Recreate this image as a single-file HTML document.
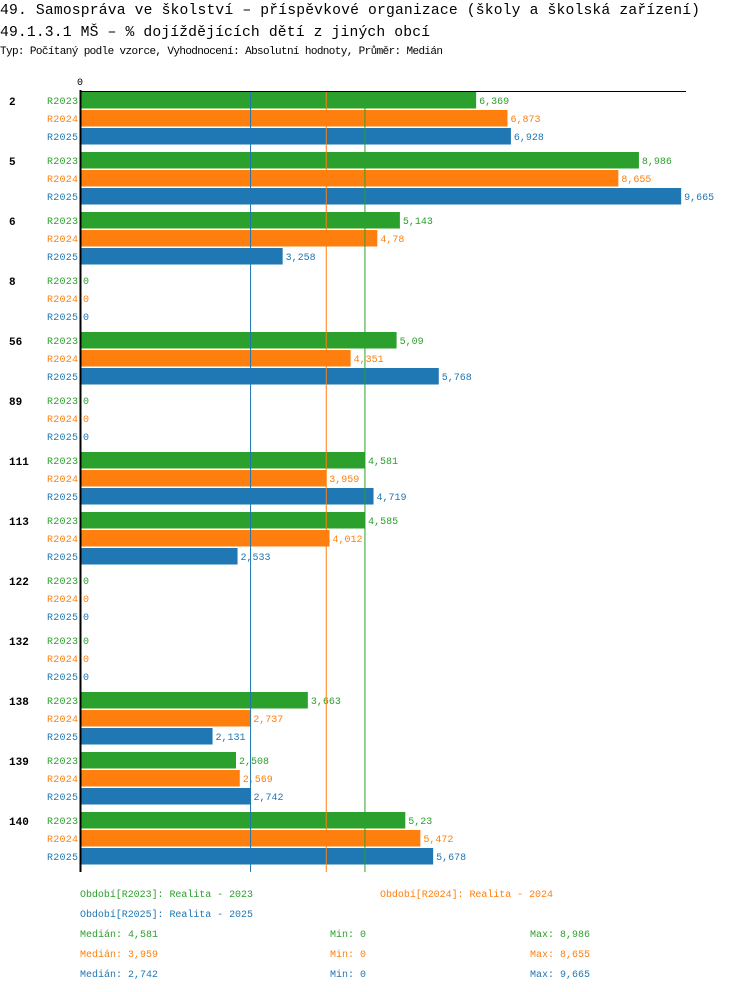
<!DOCTYPE html>
<html><head><meta charset="utf-8"><style>
body{margin:0;background:#fff;}
svg{display:block;font-family:"Liberation Mono","DejaVu Sans Mono",monospace;}
</style></head><body>
<svg id="c" width="750" height="992" xmlns="http://www.w3.org/2000/svg">
<text x="0" y="14" font-size="14.7" textLength="700">49. Samospráva ve školství – příspěvkové organizace (školy a školská zařízení)</text>
<text x="0" y="36" font-size="14.7" textLength="430">49.1.3.1 MŠ – % dojíždějících dětí z jiných obcí</text>
<text x="0" y="54" font-size="11" textLength="443">Typ: Počítaný podle vzorce, Vyhodnocení: Absolutní hodnoty, Průměr: Medián</text>
</svg>
<script>
const categories=["2","5","6","8","56","89","111","113","122","132","138","139","140"];
const seriesNames=["R2023","R2024","R2025"];
const r2023=[6.369,8.986,5.143,0,5.09,0,4.581,4.585,0,0,3.663,2.508,5.23];
const r2024=[6.873,8.655,4.78,0,4.351,0,3.959,4.012,0,0,2.737,2.569,5.472];
const r2025=[6.928,9.665,3.258,0,5.768,0,4.719,2.533,0,0,2.131,2.742,5.678];
const medians=[4.581,3.959,2.742];
const mins=[0,0,0];
const maxs=[8.986,8.655,9.665];
const legendLabels=["Období[R2023]: Realita - 2023","Období[R2024]: Realita - 2024","Období[R2025]: Realita - 2025"];
const colors=["#2ca02c","#ff7f0e","#1f77b4"];
const series=[r2023,r2024,r2025];
const svg=document.getElementById('c');
const NS="http://www.w3.org/2000/svg";
const x0=80, pxPerUnit=62.2;
function xs(v){return x0+v*pxPerUnit;}
function ys(gi,si){return 92+gi*60+si*18;}
function el(t,a,txt){const e=document.createElementNS(NS,t);for(const k in a)e.setAttribute(k,a[k]);if(txt!==undefined)e.textContent=txt;svg.appendChild(e);return e;}
function fmt(v){return String(v).replace('.',',');}
const ax=el('line',{x1:80,y1:91.5,x2:686,y2:91.5,stroke:'#000','stroke-width':1});


const zt=el('text',{x:77,y:85,'font-size':10},'0');


categories.forEach((c,gi)=>{
  const g=el('text',{x:9,y:ys(gi,0)+13,'font-size':11,'font-weight':'bold'},c);
  
  
  series.forEach((s,si)=>{
    const y=ys(gi,si);
    const l=el('text',{x:78,y:y+12,'font-size':10,'text-anchor':'end',fill:colors[si],textLength:31},seriesNames[si]);
    
    
    const w=xs(s[gi])-x0;
    if(w>0){
      const r=el('rect',{x:x0,y:y,width:w,height:16.5,fill:colors[si]});
      
      
    }
    const v=el('text',{x:xs(s[gi])+3,y:y+12,'font-size':10,fill:colors[si]},fmt(s[gi]));
    
    
  });
});
medians.forEach((m,i)=>{
  const ln=el('line',{x1:xs(m),y1:92,x2:xs(m),y2:872,stroke:colors[i],'stroke-width':1});
  
  
});
const ya=el('line',{x1:80.5,y1:90,x2:80.5,y2:872,stroke:'#000','stroke-width':2});


const legPos=[[80,897],[380,897],[80,917]];
legendLabels.forEach((t,i)=>{
  const e=el('text',{x:legPos[i][0],y:legPos[i][1],'font-size':10,fill:colors[i],textLength:173},t);
  
  
});
medians.forEach((m,i)=>{
  const y=937+i*20;
  const a=el('text',{x:80,y:y,'font-size':10,fill:colors[i]},'Medián: '+fmt(m));
  
  
  const b=el('text',{x:330,y:y,'font-size':10,fill:colors[i]},'Min: '+fmt(mins[i]));
  
  
  const d=el('text',{x:530,y:y,'font-size':10,fill:colors[i]},'Max: '+fmt(maxs[i]));
  
  
});
</script>
</body></html>
